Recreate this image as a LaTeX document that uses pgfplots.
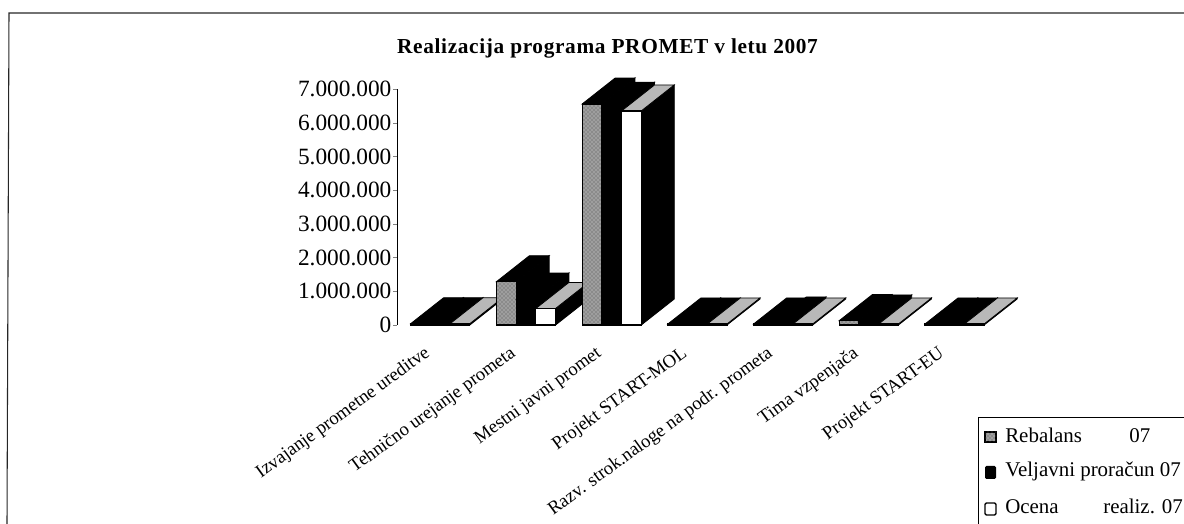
\documentclass[border=0pt]{standalone}
\usepackage{pgfplots}
\pgfplotsset{compat=1.18}
\usepackage{fontspec}
\setmainfont{Liberation Serif}
\usetikzlibrary{patterns}
\newcommand{\depthx}{0.385} % depth in category units (33 px)
\newcommand{\depthy}{771} % depth in thousands (26 px)
\newcommand{\bw}{0.23}
\newcommand{\oneBar}[5]{% category, slot, value in thousands, front style, top style
  \pgfmathsetmacro{\xa}{#1-0.34+#2*\bw}
  \pgfmathsetmacro{\xb}{\xa+\bw}
  \pgfmathsetmacro{\xc}{\xa+\depthx}
  \pgfmathsetmacro{\xd}{\xb+\depthx}
  \pgfmathsetmacro{\yt}{#3+\depthy}
  \pgfmathsetmacro{\yb}{\depthy}
  \addplot[draw=black,fill=black,line width=0.6pt] coordinates {(\xb,0) (\xd,\yb) (\xd,\yt) (\xb,#3)} -- cycle;
  \addplot[draw=black,#5,line width=0.6pt] coordinates {(\xa,#3) (\xb,#3) (\xd,\yt) (\xc,\yt)} -- cycle;
  \addplot[draw=black,#4,line width=0.9pt] coordinates {(\xa,0) (\xb,0) (\xb,#3) (\xa,#3)} -- cycle;
}
\newcommand{\threeBars}[4]{%
  \oneBar{#1}{0}{#2}{gray1}{fill=black}
  \oneBar{#1}{1}{#3}{fill=black}{fill=black}
  \oneBar{#1}{2}{#4}{fill=white}{gray2}
}
\tikzset{gray1/.style={fill=black!38,postaction={pattern=crosshatch dots,pattern color=black!70}},
gray2/.style={fill=black!28}}
\begin{document}
\begin{tikzpicture}
\path[use as bounding box] (0,0) rectangle (888pt,393pt);
\begin{axis}[
  at={(297.75pt,149.25pt)},anchor=south west,
  scale only axis,
  width=450pt,height=177pt,
  xmin=-0.5,xmax=6.5,ymin=0,ymax=7000,
  clip=false,
  axis lines=left,
  axis line style={-,black,line width=0.7pt},
  x axis line style={draw=none},
  xtick={0,...,6},
  xticklabels={Izvajanje prometne ureditve,Tehnično urejanje prometa,Mestni javni promet,Projekt START-MOL,Razv. strok.naloge na podr. prometa,Tima vzpenjača,Projekt START-EU},
  x tick label style={rotate=36,anchor=north east,font=\fontsize{14}{15}\selectfont,inner sep=0pt,text height=10pt,text depth=3pt,yshift=-3pt,xshift=-18pt},
  major x tick style={draw=none},
  ytick={0,1000,...,7000},
  yticklabels={0,1.000.000,2.000.000,3.000.000,4.000.000,5.000.000,6.000.000,7.000.000},
  y tick label style={font=\fontsize{17.5}{19}\selectfont,inner sep=1pt},
  tickwidth=3pt,
  ytick align=outside,
  scaled y ticks=false,
]
\threeBars{0}{40}{40}{40}
\threeBars{1}{1285}{770}{490}
\threeBars{2}{6555}{6430}{6350}
\threeBars{3}{30}{30}{30}
\threeBars{4}{30}{60}{30}
\threeBars{5}{130}{120}{30}
\threeBars{6}{30}{30}{30}
\end{axis}
\begin{scope}[x=0.75pt,y=-0.75pt,yshift=393pt]
\draw[line width=0.8pt,black!85] (7,524) -- (9,13) -- (1184,13);
\node[font=\bfseries\fontsize{16}{18}\selectfont,inner sep=0pt] at (607.5,48) {\addfontfeature{LetterSpace=3}Realizacija programa PROMET v letu 2007};
\draw[line width=0.7pt,fill=white] (978,417) rectangle (1190,530);
\tikzset{every node/.style={anchor=base west,inner sep=0pt,font=\fontsize{15.7}{17}\selectfont}}
\node at (1005,443) {Rebalans};
\node at (1129,443) {07};
\node at (1005,477) {Veljavni proračun 07};
\node at (1005,514) {Ocena};
\node at (1103,514) {realiz. 07};
\draw[line width=0.8pt,gray1] (985,432) rectangle (996,442);
\fill[black,rounded corners=1pt] (985,466) rectangle (996,479);
\draw[line width=1.1pt,rounded corners=1pt] (985,503) rectangle (996,515);
\end{scope}
\end{tikzpicture}
\end{document}
